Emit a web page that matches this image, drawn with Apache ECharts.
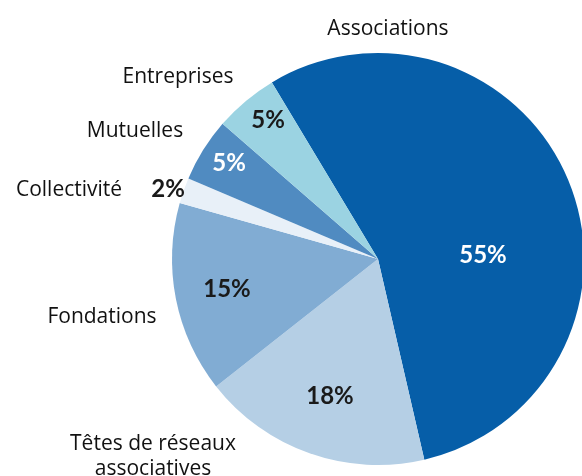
<!DOCTYPE html>
<html>
<head>
<meta charset="utf-8">
<script src="https://cdn.jsdelivr.net/npm/echarts@6/dist/echarts.min.js"></script>
<style>
  html, body { margin: 0; padding: 0; background: #fff; }
  #chart { width: 582px; height: 476px; }
</style>
</head>
<body>
<div id="chart"></div>
<script>
  // clockwise from the top-left edge of Associations
  var categories = ['Associations', 'Têtes de réseaux\nassociatives', 'Fondations', 'Collectivité', 'Mutuelles', 'Entreprises']
  var shares = [55, 18, 15, 2, 5, 5]
  var colors = ['#065ea8', '#b5cfe5', '#81acd3', '#e8f0f8', '#508bc1', '#9bd3e2']
  var pctColors = ['#ffffff', '#1a1a1a', '#1a1a1a', '#1a1a1a', '#ffffff', '#1a1a1a']

  // where the labels sit in the picture
  var pctPos = [[483, 255], [330, 396], [227, 289], [168, 189], [229, 163], [268, 120]]
  var namePos = [[388, 29], [153, 457], [102, 317], [69, 190], [135, 131], [178, 77]]

  var chart = echarts.init(document.getElementById('chart'))

  var pieData = categories.map(function (c, i) {
    return {
      name: c,
      value: shares[i],
      itemStyle: {color: colors[i]},
      label: {color: pctColors[i]}
    }
  })

  var nameData = categories.map(function (c, i) {
    return {name: c, value: shares[i]}
  })

  chart.setOption({
    animation: false,
    series: [
      {
        type: 'pie',
        center: [378, 259],
        radius: [0, 206],
        startAngle: 121,
        clockwise: true,
        silent: true,
        itemStyle: {borderWidth: 0},
        label: {
          show: true,
          position: 'inside',
          formatter: function (p) { return shares[p.dataIndex] + '%' },
          fontFamily: 'Lato, sans-serif',
          fontWeight: 'bold',
          fontSize: 24
        },
        labelLine: {show: false},
        labelLayout: function (p) {
          var pos = pctPos[p.dataIndex]
          return {x: pos[0], y: pos[1], align: 'center', verticalAlign: 'middle'}
        },
        data: pieData
      },
      {
        // same slices, see-through, only to carry the category names
        type: 'pie',
        z: 3,
        center: [378, 259],
        radius: [0, 206],
        startAngle: 121,
        clockwise: true,
        silent: true,
        itemStyle: {color: 'rgba(0,0,0,0)', borderWidth: 0},
        label: {
          show: true,
          position: 'outside',
          formatter: '{b}',
          color: '#111',
          fontFamily: '"Open Sans", sans-serif',
          fontWeight: 500,
          fontSize: 21,
          lineHeight: 25,
          align: 'center',
          overflow: 'none'
        },
        labelLine: {show: false},
        labelLayout: function (p) {
          var pos = namePos[p.dataIndex]
          return {x: pos[0], y: pos[1], align: 'center', verticalAlign: 'middle'}
        },
        data: nameData
      }
    ]
  })
</script>
</body>
</html>
